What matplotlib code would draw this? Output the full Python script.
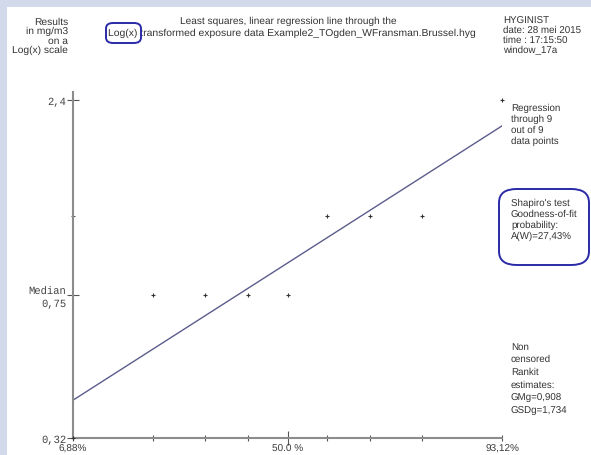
import numpy as np
import matplotlib
matplotlib.use("Agg")
import matplotlib.pyplot as plt
from matplotlib.patches import Rectangle, FancyBboxPatch
from matplotlib.ticker import NullLocator

plt.rcParams["text.hinting"] = "no_hinting"

# ---- data ----
rankit_z = [-1.485, -0.932, -0.572, -0.275, 0.0, 0.275, 0.572, 0.932, 1.485]
results = [0.32, 0.75, 0.75, 0.75, 0.75, 1.2, 1.2, 1.2, 2.4]
y_ticks = [0.32, 0.75, 1.2, 2.4]
y_labels = ["0,32", "Median\n0,75", "", "2,4"]
x_labels = ["6,88%", "", "", "", "50.0 %", "", "", "", "93,12%"]

W, H = 591, 456
fig = plt.figure(figsize=(W / 100, H / 100), dpi=100)
fig.patch.set_facecolor("#d1d9ea")

def px(x, y):
    return (x / W, 1 - y / H)

# white panel
fig.add_artist(Rectangle(px(7, H), (W - 7) / W, (H - 8) / H, transform=fig.transFigure,
                         facecolor="white", edgecolor="none", zorder=0))

ax_left, ax_right, ax_top, ax_bot = 73, 502, 93, 439
ax = fig.add_axes([ax_left / W, 1 - ax_bot / H, (ax_right - ax_left) / W, (ax_bot - ax_top) / H])
ax.set_facecolor("none")

z = np.array(rankit_z)
ly = np.log(np.array(results))
slope, intercept = np.polyfit(z, ly, 1)
zl = np.array([z.min(), z.max()])
ax.plot(zl, np.exp(intercept + slope * zl), color="#5c5c8c", lw=1.0, zorder=2)
ax.plot(z, results, linestyle="none", marker="+", ms=3, mew=0.8, color="#333333",
        clip_on=False, zorder=3)

ax.set_yscale("log")
ax.set_xlim(z.min(), z.max())
ax.set_ylim(0.32, 2.4 * np.exp(8 * 0.00598))
ax.yaxis.set_minor_locator(NullLocator())
ax.set_yticks(y_ticks)
ax.set_yticklabels(y_labels, family="Liberation Mono", fontsize=7.6, color="#444444")
ax.set_xticks(rankit_z)
ax.set_xticklabels(x_labels, family="Liberation Sans", fontsize=7.2, color="#3a3a3a")

for s in ["top", "right"]:
    ax.spines[s].set_visible(False)
for s in ["left", "bottom"]:
    ax.spines[s].set_color("#8c8c8c")
    ax.spines[s].set_linewidth(1.5)

ax.tick_params(axis="y", direction="inout", length=8, width=0.8, color="#555555", pad=1)
ax.tick_params(axis="x", direction="inout", length=5, width=0.8, color="#555555", pad=1.5)
ax.xaxis.get_major_ticks()[4].tick1line.set_markersize(10)
ax.yaxis.get_major_ticks()[2].tick1line.set_markersize(3)
for t in ax.yaxis.get_major_ticks():
    t.label1.set_multialignment("right")

tc = "#333333"
fam = "Liberation Sans"

def lines(x, y0, dy, items, ha="left", fs=7.0):
    for i, s in enumerate(items):
        fig.text(*px(x, y0 + i * dy + 3.5), s, ha=ha, va="baseline", fontsize=fs,
                 family=fam, color=tc)

lines(68, 21, 9.6, ["Results", "in mg/m3", "on a", "Log(x) scale"], ha="right", fs=7.4)
lines(288, 20.5, 0, ["Least squares, linear regression line through the"], ha="center", fs=7.3)
lines(108, 32, 0, ["Log(x) transformed exposure data Example2_TOgden_WFransman.Brussel.hyg"],
      fs=7.5)
lines(503, 20, 9.7, ["HYGINIST", "date: 28 mei 2015", "time : 17:15:50", "window_17a"])
lines(511, 107, 11.3, ["Regression", "through 9", "out of 9", "data points"])
lines(511, 202, 11.0, ["Shapiro's test", "Goodness-of-fit", "probability:", "A(W)=27,43%"])
lines(511, 346, 12.8, ["Non", "censored", "Rankit", "estimates:", "GMg=0,908", "GSDg=1,734"])

# hand-drawn blue marks
ink = "#2a2aa8"
def ring(x0, y0, x1, y1, pad):
    fig.add_artist(FancyBboxPatch(px(x0, y1), (x1 - x0) / W, (y1 - y0) / H,
                                  boxstyle=f"round,pad=0,rounding_size={pad}",
                                  transform=fig.transFigure, facecolor="none",
                                  edgecolor=ink, lw=1.4, zorder=5))
ring(106, 24, 141, 44, 0.012)
ring(499, 190, 589, 266, 0.03)

fig.savefig("out.png", dpi=100, facecolor=fig.get_facecolor())
